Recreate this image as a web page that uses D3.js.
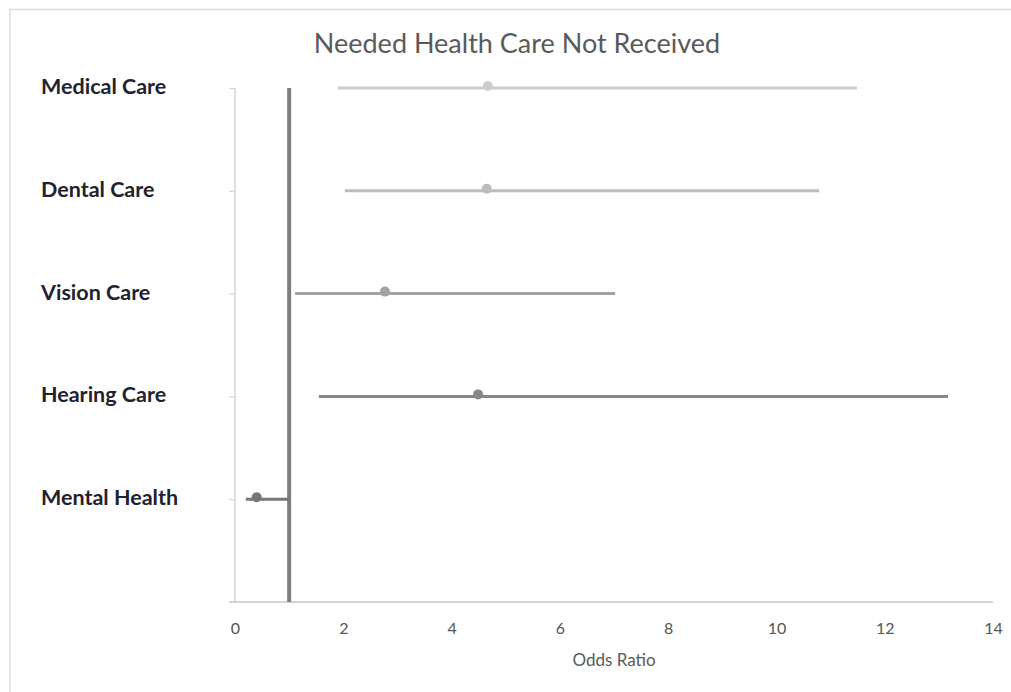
<!DOCTYPE html>
<html>
<head>
<meta charset="utf-8">
<script src="https://cdn.jsdelivr.net/npm/d3@7"></script>
<style>
  body { margin: 0; background: #fff; }
  svg { display: block; font-family: Lato, 'Open Sans', sans-serif; }
</style>
</head>
<body>
<svg></svg>
<script>
const categories = ['Medical Care', 'Dental Care', 'Vision Care', 'Hearing Care', 'Mental Health'];
const oddsRatio = [4.67, 4.65, 2.77, 4.49, 0.4];
const lowerCI = [1.9, 2.03, 1.11, 1.55, 0.2];
const upperCI = [11.49, 10.79, 7.02, 13.17, 1.0];
const xTicks = [0, 2, 4, 6, 8, 10, 12, 14];
const refValue = 1;

const width = 1011;
const height = 692;
const colors = ['#cdcdcd', '#bcbcbc', '#a2a2a2', '#878787', '#767676'];

const svg = d3.select('svg').attr('width', width).attr('height', height);

const data = categories.map((c, i) => ({
  name: c,
  pos: categories.length - i,
  or: oddsRatio[i],
  lo: lowerCI[i],
  hi: upperCI[i],
  color: colors[i]
}));

const xScale = d3.scaleLinear().domain([0, 14]).range([235, 993]);
const yScale = d3.scaleLinear().domain([0, 5]).range([602, 88]);

// frame edges of the screenshot
svg.append('line')
  .attr('x1', 9).attr('x2', width).attr('y1', 9.5).attr('y2', 9.5)
  .attr('stroke', '#dcdcdc').attr('stroke-width', 1.5);
svg.append('line')
  .attr('x1', 10).attr('x2', 10).attr('y1', 9).attr('y2', height)
  .attr('stroke', '#dcdcdc').attr('stroke-width', 1.5);

svg.append('text')
  .text('Needed Health Care Not Received')
  .attr('x', 517)
  .attr('y', 53)
  .attr('text-anchor', 'middle')
  .attr('font-size', 27)
  .attr('fill', '#5a5a5a');

// x axis
const xAxis = d3.axisBottom(xScale).tickValues(xTicks).tickSize(0).tickPadding(0);
const gx = svg.append('g')
  .attr('transform', `translate(0, ${yScale(0)})`)
  .call(xAxis);
gx.select('.domain').remove();
gx.selectAll('text')
  .attr('dy', null)
  .attr('y', 32)
  .attr('font-size', 16)
  .attr('font-family', 'Lato, sans-serif')
  .attr('fill', '#555');
svg.append('line')
  .attr('x1', 229).attr('x2', xScale(14))
  .attr('y1', yScale(0)).attr('y2', yScale(0))
  .attr('stroke', '#d4d4d4').attr('stroke-width', 2);

svg.append('text')
  .text('Odds Ratio')
  .attr('x', 614)
  .attr('y', 666)
  .attr('text-anchor', 'middle')
  .attr('font-size', 17)
  .attr('fill', '#5a5a5a');

// y axis
const yAxis = d3.axisLeft(yScale).tickValues([1, 2, 3, 4, 5]).tickSize(6).tickFormat('');
const gy = svg.append('g')
  .attr('transform', `translate(${xScale(0)}, 0)`)
  .call(yAxis);
gy.select('.domain').attr('stroke', '#d4d4d4').attr('stroke-width', 1.5).attr('d', `M0,${yScale(5)}V${yScale(0)}`);
gy.selectAll('.tick line').attr('stroke', '#d4d4d4').attr('stroke-width', 1.2);

svg.selectAll('.label')
  .data(data)
  .enter()
  .append('text')
  .attr('class', 'label')
  .text(d => d.name)
  .attr('x', 41)
  .attr('y', d => yScale(d.pos) + 6)
  .attr('font-size', 21.5)
  .attr('font-weight', 'bold')
  .attr('fill', '#22222e');

// reference line at OR = 1
svg.append('line')
  .attr('x1', xScale(refValue)).attr('x2', xScale(refValue))
  .attr('y1', yScale(5)).attr('y2', yScale(0))
  .attr('stroke', '#7e7e7e').attr('stroke-width', 4);

svg.selectAll('.ci')
  .data(data)
  .enter()
  .append('line')
  .attr('class', 'ci')
  .attr('x1', d => xScale(d.lo))
  .attr('x2', d => xScale(d.hi))
  .attr('y1', d => yScale(d.pos))
  .attr('y2', d => yScale(d.pos))
  .attr('stroke', d => d.color)
  .attr('stroke-width', 3);

svg.selectAll('.dot')
  .data(data)
  .enter()
  .append('circle')
  .attr('class', 'dot')
  .attr('cx', d => xScale(d.or))
  .attr('cy', d => yScale(d.pos) - 2)
  .attr('r', 5)
  .attr('fill', d => d.color);
</script>
</body>
</html>
